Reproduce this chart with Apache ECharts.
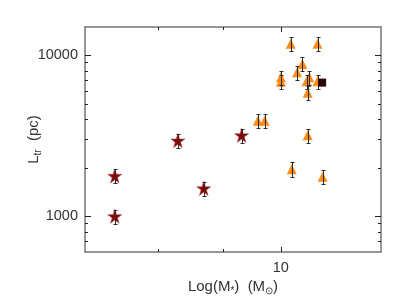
<!DOCTYPE html>
<html><head><meta charset="utf-8">
<script src="https://cdn.jsdelivr.net/npm/echarts@6/dist/echarts.min.js"></script>
<style>html,body{margin:0;padding:0;background:#fff}#c{width:407px;height:306px}</style>
</head><body><div id="c"></div>
<script>
// ---- data ----
const starX  = [7.39, 7.39, 8.29, 8.69, 9.31];
const starY  = [1000, 1780, 2950, 1490, 3180];
const starLo = [900, 1600, 2660, 1340, 2860];
const starHi = [1100, 1960, 3250, 1640, 3500];

const triX  = [10.18, 10.69, 10.40, 10.30, 10.00, 10.00, 10.53, 10.48, 10.50, 10.69, 9.59, 9.71, 10.50, 10.20, 10.79];
const triY  = [11800, 11800, 8850, 7850, 7300, 6850, 7300, 6900, 5850, 6900, 3920, 3920, 3190, 1960, 1760];
const triLo = [10600, 10600, 7970, 7070, 6570, 6170, 6570, 6210, 5270, 6210, 3530, 3530, 2870, 1760, 1580];
const triHi = [13000, 13000, 9740, 8640, 8030, 7540, 8030, 7590, 6440, 7590, 4310, 4310, 3510, 2160, 1940];

const sqX = [10.78];
const sqY = [6770];

const xRange = [7, 12];
const yRange = [600, 15000];
const xMajorTicks = [10];
const xMinorTicks = [8, 9];
const yMajorTicks = [1000, 10000];
const yMinorTicks = [700, 800, 900, 2000, 3000, 4000, 5000, 6000, 7000, 8000, 9000];
const xTickLabels = [10];
const yTickLabels = [1000, 10000];

// ---- chart ----
const FONT = 'Liberation Sans';
const TXT = '#333';
const LINE = '#777';
const L10 = v => Math.log10(v);
const fmtPow = v => String(Math.round(Math.pow(10, v)));

function overlayAxis(isX, pos, ticks, len, showLine, labels) {
  const rng = isX ? xRange : yRange;
  return {
    type: 'value', gridIndex: 0, position: pos,
    min: L10(rng[0]), max: L10(rng[1]),
    axisLine: { show: showLine, lineStyle: { color: LINE, width: 1.5 } },
    axisTick: { show: true, inside: true, length: len, customValues: ticks.map(L10),
                lineStyle: { color: '#222', width: 1 } },
    axisLabel: labels ? { show: true, customValues: labels.map(L10), formatter: fmtPow,
                          fontFamily: FONT, fontSize: 14.5, color: TXT, margin: isX ? 8 : 7 }
                      : { show: false },
    splitLine: { show: false }
  };
}

const richN = { fontFamily: FONT, fontSize: 15, color: TXT, lineHeight: 19 };
const richS = { fontFamily: FONT, fontSize: 10, color: TXT, lineHeight: 10, verticalAlign: 'bottom' };

function errData(xs, lo, hi) { return xs.map((x, i) => [x, lo[i], hi[i]]); }
function renderErr(params, api) {
  const x = api.value(0), lo = api.value(1), hi = api.value(2);
  const p1 = api.coord([x, lo]), p2 = api.coord([x, hi]);
  const cx = Math.round(p1[0]) + 0.5;
  const y1 = Math.round(p1[1]) + 0.5, y2 = Math.round(p2[1]) + 0.5;
  const cw = 2;
  const st = { stroke: '#2a2a2a', lineWidth: 1 };
  return { type: 'group', children: [
    { type: 'line', shape: { x1: cx, y1: y1, x2: cx, y2: y2 }, style: st },
    { type: 'line', shape: { x1: cx - cw, y1: y1, x2: cx + cw, y2: y1 }, style: st },
    { type: 'line', shape: { x1: cx - cw, y1: y2, x2: cx + cw, y2: y2 }, style: st }
  ]};
}

const STAR = 'path://M50,0 L61.2,34.5 L97.6,34.5 L68.2,55.9 L79.4,90.5 L50,69.1 L20.6,90.5 L31.8,55.9 L2.4,34.5 L38.8,34.5 Z';

const chart = echarts.init(document.getElementById('c'), null, { renderer: 'canvas' });
chart.setOption({
  animation: false,
  backgroundColor: '#fff',
  grid: { left: 85, right: 26, top: 27, bottom: 54, containLabel: false, outerBoundsMode: 'none' },
  xAxis: [
    { type: 'log', logBase: 10, min: xRange[0], max: xRange[1], position: 'bottom',
      axisLine: { show: true, lineStyle: { color: LINE, width: 1.5 } },
      axisTick: { show: false }, axisLabel: { show: false }, splitLine: { show: false },
      name: '{n|Log(M}{s|*}{n|)  (M}{s|⊙}{n|)}', nameLocation: 'middle', nameGap: 25,
      nameTextStyle: { fontFamily: FONT, fontSize: 15, color: TXT, rich: { n: richN, s: richS } } },
    overlayAxis(true, 'bottom', xMajorTicks, 5, false, xTickLabels),
    overlayAxis(true, 'bottom', xMinorTicks, 3, false, null),
    overlayAxis(true, 'top', xMajorTicks, 5, true, null),
    overlayAxis(true, 'top', xMinorTicks, 3, false, null)
  ],
  yAxis: [
    { type: 'log', logBase: 10, min: yRange[0], max: yRange[1], position: 'left',
      axisLine: { show: true, lineStyle: { color: LINE, width: 1.5 } },
      axisTick: { show: false }, axisLabel: { show: false }, splitLine: { show: false },
      name: '{n|L}{s|tr}{n|  (pc)}', nameLocation: 'middle', nameGap: 42,
      nameTextStyle: { fontFamily: FONT, fontSize: 15, color: TXT, rich: { n: richN, s: richS } } },
    overlayAxis(false, 'left', yMajorTicks, 6, false, yTickLabels),
    overlayAxis(false, 'left', yMinorTicks, 3, false, null),
    overlayAxis(false, 'right', yMajorTicks, 6, true, null),
    overlayAxis(false, 'right', yMinorTicks, 3, false, null)
  ],
  series: [
    { type: 'scatter', xAxisIndex: 0, yAxisIndex: 0, symbol: 'triangle', symbolSize: [10, 10],
      itemStyle: { color: '#ff8c1a', opacity: 1 }, z: 2,
      data: triX.map((x, i) => [x, triY[i]]) },
    { type: 'scatter', xAxisIndex: 0, yAxisIndex: 0, symbol: STAR, symbolSize: 14,
      itemStyle: { color: '#8b0000', borderColor: '#b55050', borderWidth: 0.6, opacity: 1 }, z: 2,
      data: starX.map((x, i) => [x, starY[i]]) },
    { type: 'custom', xAxisIndex: 0, yAxisIndex: 0, renderItem: renderErr, z: 3,
      encode: { x: 0, y: [1, 2] }, data: errData(triX, triLo, triHi).concat(errData(starX, starLo, starHi)) },
    { type: 'scatter', xAxisIndex: 0, yAxisIndex: 0, symbol: 'rect', symbolSize: 8,
      itemStyle: { color: '#2a0303', opacity: 1 }, z: 4,
      data: sqX.map((x, i) => [x, sqY[i]]) }
  ]
});
</script>
</body></html>
